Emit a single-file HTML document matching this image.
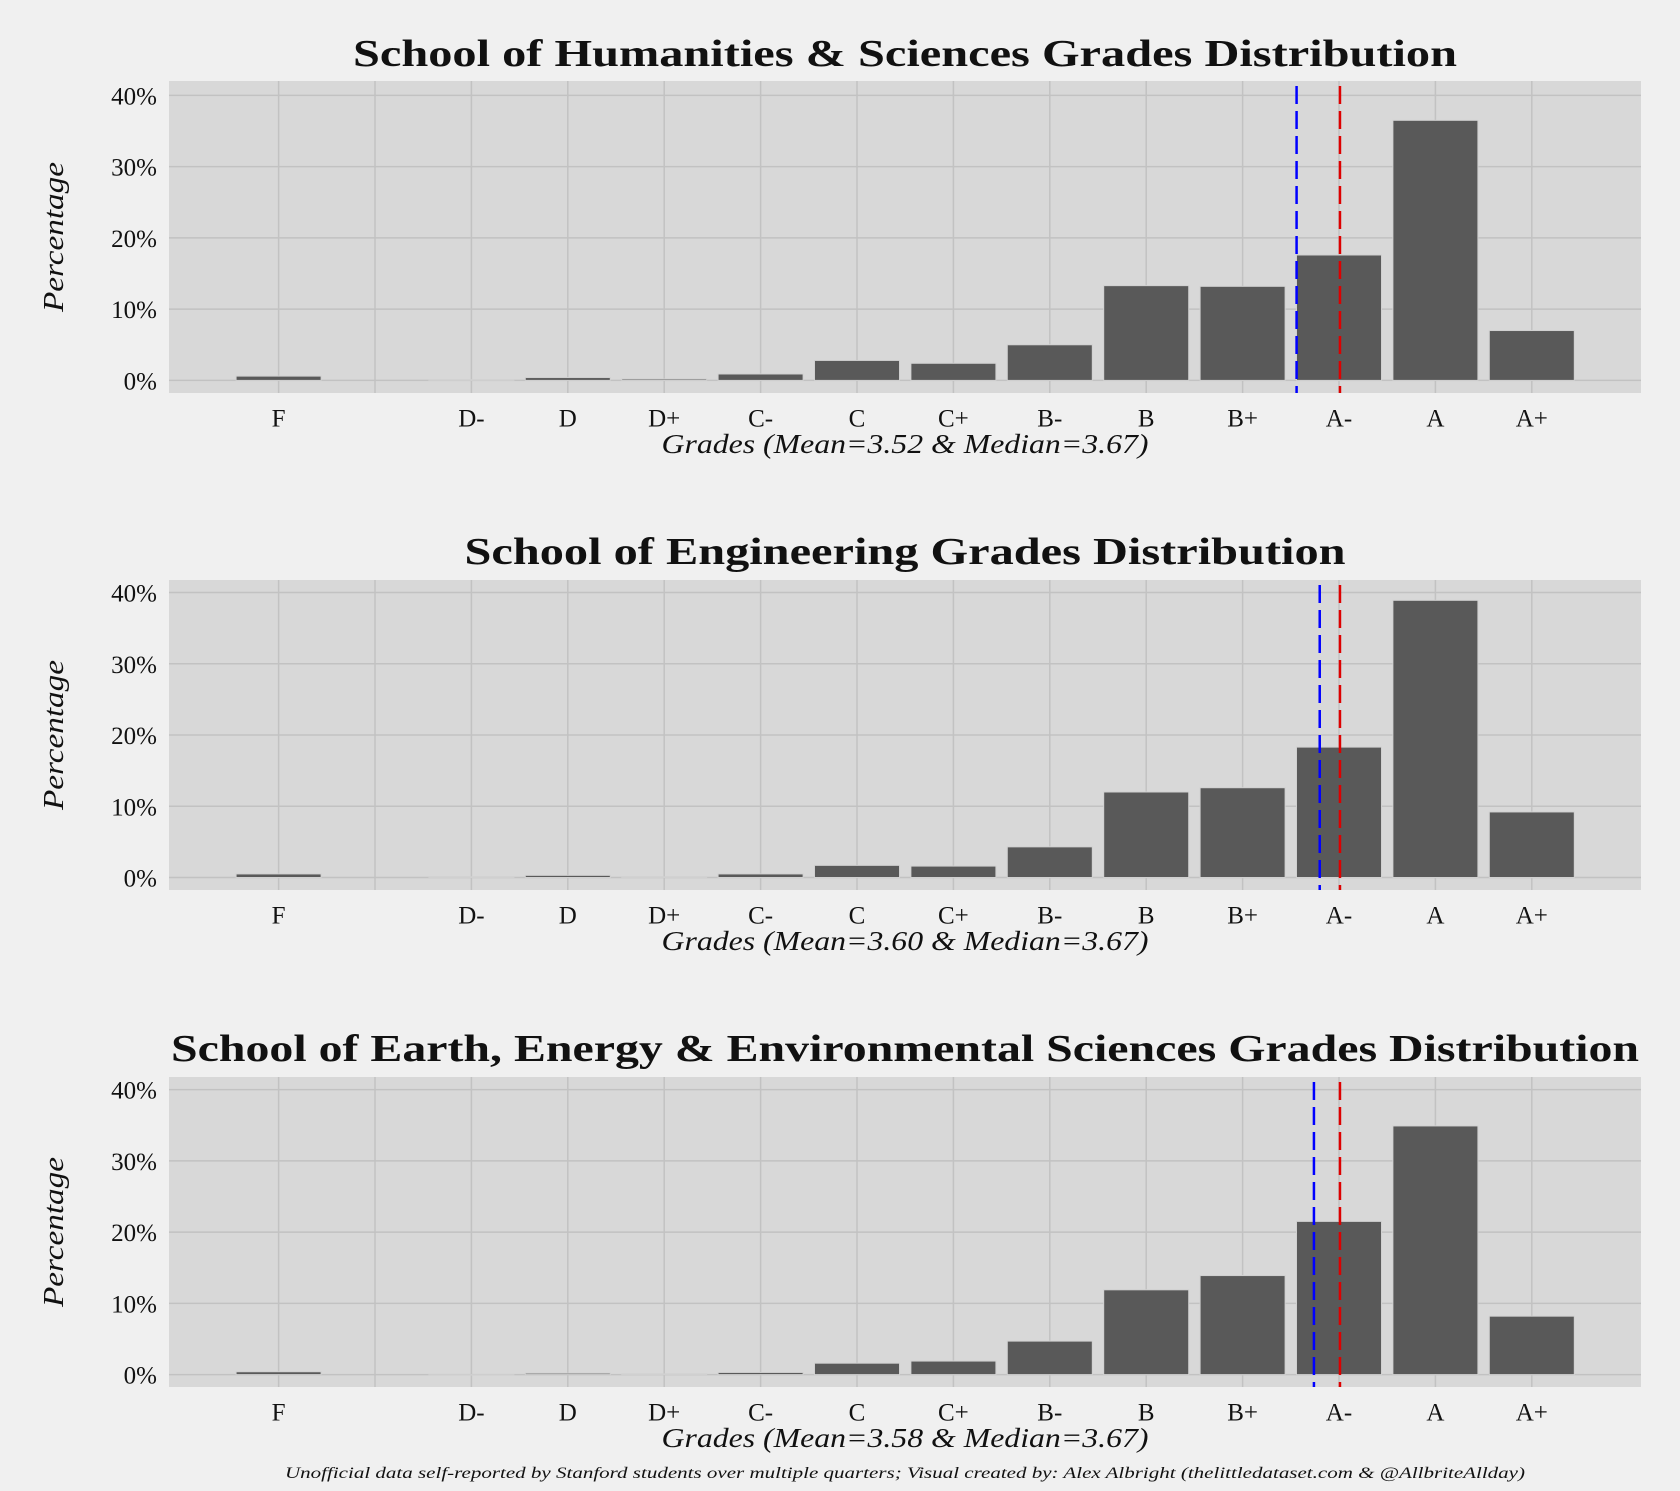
<!DOCTYPE html>
<html><head><meta charset="utf-8"><style>
html,body{margin:0;padding:0;background:#f0f0f0;}
svg{display:block;}
text{font-family:"Liberation Serif",serif;fill:#111;}
</style></head><body>
<svg id="fig" width="1680" height="1491" viewBox="0 0 1680 1491" xmlns="http://www.w3.org/2000/svg">
<rect width="1680" height="1491" fill="#f0f0f0"/>
<text x="905" y="1478" text-anchor="middle" font-size="16" font-style="italic" textLength="1240" lengthAdjust="spacingAndGlyphs">Unofficial data self-reported by Stanford students over multiple quarters; Visual created by: Alex Albright (thelittledataset.com &amp; @AllbriteAllday)</text>
</svg>
<script>
const grades = ["F","D-","D","D+","C-","C","C+","B-","B","B+","A-","A","A+"];
const gradePoints = [0,0.67,1,1.33,1.67,2,2.33,2.67,3,3.33,3.67,4,4.33];
const yTicks = [0,10,20,30,40];
const yTickLabels = ["0%","10%","20%","30%","40%"];
const titles = ["School of Humanities & Sciences Grades Distribution","School of Engineering Grades Distribution","School of Earth, Energy & Environmental Sciences Grades Distribution"];
const hsValues = [0.6,0.1,0.4,0.2,0.9,2.8,2.4,5.0,13.3,13.2,17.6,36.5,7.0];
const engValues = [0.5,0.1,0.3,0.1,0.5,1.7,1.6,4.3,12.0,12.6,18.3,38.9,9.2];
const eeesValues = [0.4,0.0,0.2,0.1,0.3,1.6,1.9,4.7,11.9,13.9,21.5,34.9,8.2];
const means = [3.52,3.60,3.58];
const medians = [3.67,3.67,3.67];

const NS="http://www.w3.org/2000/svg";
const svg=document.getElementById('fig');
function mk(tag,attrs,parent){const e=document.createElementNS(NS,tag);for(const k in attrs)e.setAttribute(k,attrs[k]);(parent||svg).appendChild(e);return e;}

const panels=[
 {top:81,bottom:393,y0:380.4,y40:95.4,values:hsValues,titleY:66,tw:1104,name:'humanities'},
 {top:580,bottom:890,y0:877.5,y40:592.5,values:engValues,titleY:564,tw:881,name:'engineering'},
 {top:1077,bottom:1387,y0:1374.6,y40:1089.6,values:eeesValues,titleY:1061,tw:1468,name:'earth-energy'}
];
const left=169,right=1641;
const x=v=>278.6+96.4*v; // v in grade-points*3
panels.forEach((p,pi)=>{
  const y=v=>p.y0+(p.y40-p.y0)*v/40;
  const g=mk('g',{});
  
  
  const bg=mk('rect',{x:left,y:p.top,width:right-left,height:p.bottom-p.top,fill:'#d8d8d8'},g);
  
  
  yTicks.forEach((t,i)=>{
    const l=mk('line',{x1:left,x2:right,y1:y(t),y2:y(t),stroke:'#c2c2c2','stroke-width':1.5},g);
    
    
    const tx=mk('text',{x:157,y:y(t)+9,'text-anchor':'end','font-size':25},g);
    
    
    tx.textContent=yTickLabels[i];
  });
  const gridPos=[0,1].concat(gradePoints.slice(1).map(gp=>Math.round(gp*3)));
  gridPos.forEach(v=>{
    const l=mk('line',{x1:x(v),x2:x(v),y1:p.top,y2:p.bottom,stroke:'#c2c2c2','stroke-width':1.5},g);
    
    
  });
  grades.forEach((gr,i)=>{
    const v=Math.round(gradePoints[i]*3);
    const yy=y(p.values[i]);
    const b=mk('rect',{x:x(v)-42.5,y:yy,width:85,height:Math.max(p.y0-yy,0.5),fill:'#595959',stroke:'#d0d0d0','stroke-width':1},g);
    
    
    const t=mk('text',{x:x(v),y:p.y0+46,'text-anchor':'middle','font-size':25},g);
    
    
    t.textContent=gr;
  });
  const ml=mk('line',{x1:x(means[pi]*3),x2:x(means[pi]*3),y1:p.top+5,y2:p.bottom,stroke:'#0000ff','stroke-width':2.5,'stroke-dasharray':'18,7'},g);
  
  
  const md=mk('line',{x1:x(medians[pi]*3),x2:x(medians[pi]*3),y1:p.top+5,y2:p.bottom,stroke:'#dd0000','stroke-width':2.5,'stroke-dasharray':'18,7'},g);
  
  
  const tt=mk('text',{x:905,y:p.titleY,'text-anchor':'middle','font-size':38,'font-weight':'bold',textLength:p.tw,lengthAdjust:'spacingAndGlyphs'},g);
  
  
  tt.textContent=titles[pi];
  const xl=mk('text',{x:905,y:p.bottom+60,'text-anchor':'middle','font-size':27,'font-style':'italic',textLength:487,lengthAdjust:'spacingAndGlyphs'},g);
  
  
  xl.textContent='Grades (Mean='+means[pi].toFixed(2)+' & Median='+medians[pi].toFixed(2)+')';
  const cy=(p.top+p.bottom)/2;
  const yl=mk('text',{x:63,y:cy,'text-anchor':'middle','font-size':29,'font-style':'italic',textLength:150,lengthAdjust:'spacingAndGlyphs',transform:'rotate(-90 63 '+cy+')'},g);
  
  
  yl.textContent='Percentage';
});
</script>
</body></html>
